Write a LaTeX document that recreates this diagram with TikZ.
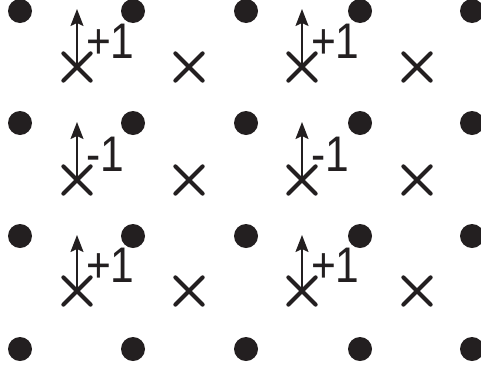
\documentclass[tikz,border=0pt]{standalone}
\usepackage{fontspec}
\setmainfont{Liberation Sans}
\usetikzlibrary{arrows.meta,shapes.misc}
\definecolor{ink}{HTML}{231F20}
\begin{document}
\begin{tikzpicture}[x=1pt,y=-1pt,
  dot/.style={circle,fill=ink,inner sep=0pt,minimum size=24pt},
  crossmark/.style={cross out,draw=ink,line width=4.2pt,line cap=round,inner sep=0pt,minimum size=23pt},
  arr/.style={draw=ink,line width=1.7pt,-{Stealth[length=17pt,width=13pt,inset=3pt]}},
  lbl/.style={text=ink,font=\fontsize{50}{50}\selectfont,inner sep=0pt,anchor=base west,xscale=0.85}]
\useasboundingbox (0,0) rectangle (481,370);
% dots
\foreach \y [count=\r] in {11,123,236,349}
  \foreach \x [count=\c] in {20,133,246,360,472}
    \node[dot] (d-\r-\c) at (\x,\y) {};
% crosses
\foreach \y [count=\r] in {67,180,291}
  \foreach \x [count=\c] in {77,189,302,417}
    \node[crossmark] (x-\r-\c) at (\x,\y) {};
% arrows and labels
\foreach \y/\t/\s [count=\r] in {67/9/+1,180/122/-1,291/235/+1}
  \foreach \x/\c in {77/1,302/3} {
    \coordinate (t-\r-\c) at (\x,\t);
    \draw[arr] (x-\r-\c.center) -- (t-\r-\c);
    \node[lbl] (l-\r-\c) at (\x+9,\y-9) {\s};
  }
\end{tikzpicture}
\end{document}
